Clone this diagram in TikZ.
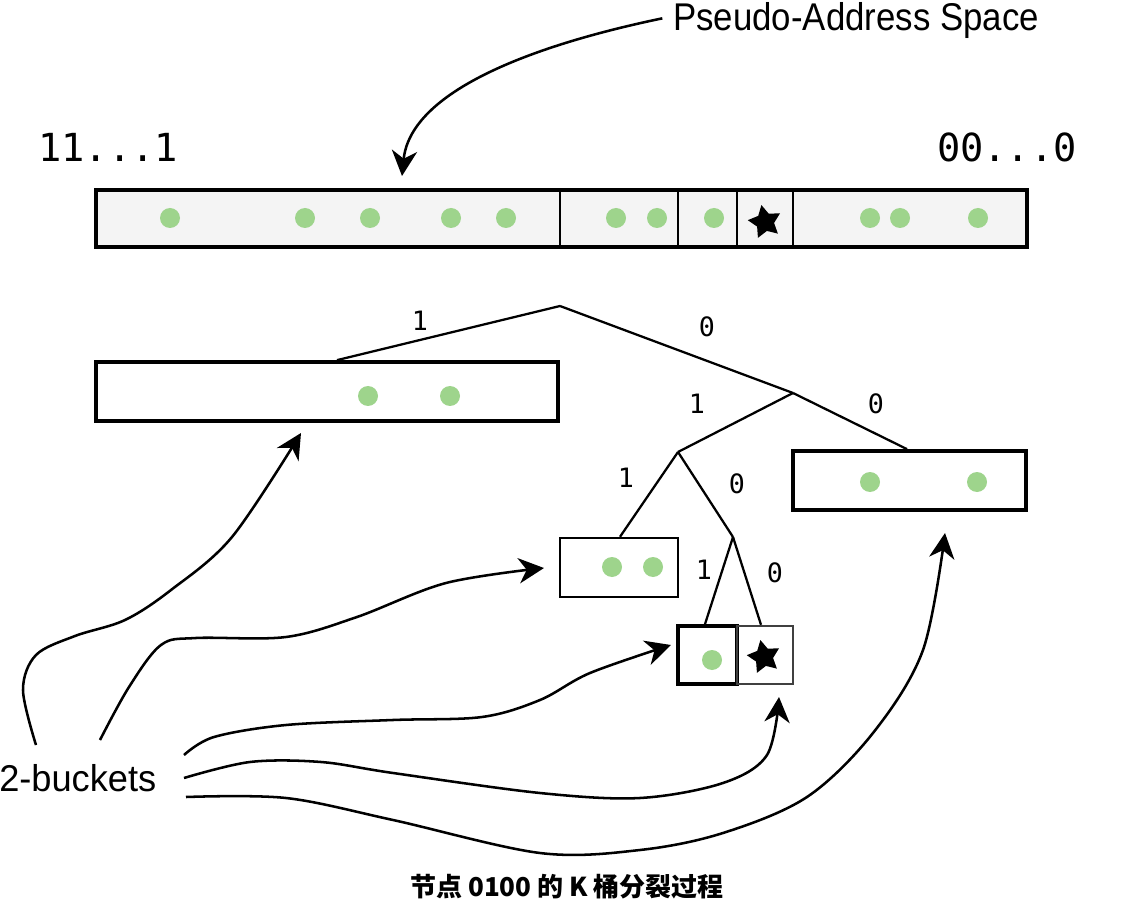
\documentclass[tikz,border=0pt]{standalone}
\usepackage{fontspec}
\setmainfont{Liberation Sans}
\newfontfamily\monof{DejaVu Sans Mono}
\newfontfamily\cjk{Noto Sans CJK SC}
\usetikzlibrary{shapes.geometric,arrows.meta,fit}
\definecolor{dotg}{RGB}{158,212,140}
\definecolor{barbg}{RGB}{244,244,244}
\begin{document}
\begin{tikzpicture}[x=0.75pt,y=-0.75pt,
 dot/.style={circle,fill=dotg,inner sep=0,minimum size=15pt},
 starmark/.style={star,star points=5,star point ratio=1.9,fill=black,inner sep=0,minimum size=26pt,rotate=12},
 bigbox/.style={draw,line width=2.8pt,inner sep=0},
 smallbox/.style={draw,line width=1.8pt,inner sep=0},
 divider/.style={line width=1.4pt},
 edge/.style={line width=1.7pt},
 digit/.style={font=\monof\fontsize{20}{24}\selectfont,inner sep=0},
 curve/.style={line width=1.9pt,-{Stealth[length=19pt,width=19pt,inset=6pt]}},
]
\useasboundingbox (0,0) rectangle (1136,916);

% top bar
\node[bigbox,fill=barbg,fit={(96,190)(1027,247)}] (bar) {};
\foreach \x in {560,678,737,793} \draw[divider] (\x,190) -- (\x,247);
\foreach \x [count=\i] in {170,305,370,451,506,616,657,714,870,900,978}
  \node[dot] (td\i) at (\x,218) {};
\node[starmark] (tstar) at (765,222) {};

\node[font=\monof\fontsize{29}{32}\selectfont,anchor=base west,inner sep=0] (hi) at (38,162) {11...1};
\node[font=\monof\fontsize{29}{32}\selectfont,anchor=base east,inner sep=0] (lo) at (1077,162) {00...0};

\node[font=\fontsize{29}{32}\selectfont,anchor=base west,inner sep=0,xscale=0.9] (pa) at (673,31) {Pseudo-Address Space};
\coordinate (patip) at (402,176);
\draw[curve] ([xshift=-8pt,yshift=2pt]pa.west) .. controls (520,48) and (410,95) .. (patip);

% tree
\coordinate (r) at (560,306);
\coordinate (n0) at (793,393);
\coordinate (n01) at (678,452);
\coordinate (n010) at (733,537);

\node[bigbox,fill=white,fit={(96,362)(558,421)}] (b1) {};
\node[bigbox,fill=white,fit={(793,451)(1026,510)}] (b00) {};
\node[smallbox,fit={(560,538)(678,597)}] (b011) {};
\node[bigbox,fit={(678,626)(737,684)}] (b0101) {};
\node[smallbox,draw=black!75,fit={(737,626)(793,684)}] (b0100) {};

\draw[edge] (r) -- (337,0 |- b1.north);
\draw[edge] (r) -- (n0);
\draw[edge] (n0) -- (n01);
\draw[edge] (n0) -- (907,0 |- b00.north);
\draw[edge] (n01) -- (620,0 |- b011.north);
\draw[edge] (n01) -- (n010);
\draw[edge] (n010) -- (705,0 |- b0101.north);
\draw[edge] (n010) -- (761,0 |- b0100.north);

\node[digit] (l1) at (420,321) {1};
\node[digit] (l2) at (707,327) {0};
\node[digit] (l3) at (697,404) {1};
\node[digit] (l4) at (876,404) {0};
\node[digit] (l5) at (626,478) {1};
\node[digit] (l6) at (737,484) {0};
\node[digit] (l7) at (704,570) {1};
\node[digit] (l8) at (775,573) {0};

\node[dot] (d1) at (368,396) {};
\node[dot] (d2) at (450,396) {};
\node[dot] (d3) at (870,482) {};
\node[dot] (d4) at (977,482) {};
\node[dot] (d5) at (612,567) {};
\node[dot] (d6) at (653,567) {};
\node[dot] (d7) at (712,660) {};
\node[starmark] (bstar) at (764,657) {};

% 2-buckets
\node[font=\fontsize{28}{30}\selectfont,anchor=base west,inner sep=0,xscale=0.97] (bk) at (-1,791) {2-buckets};
\coordinate (s1) at (36,745);
\coordinate (s2) at (100,740);
\coordinate (s3) at (184,755);
\coordinate (s4) at (184,778);
\coordinate (s5) at (186,797);
\coordinate (t1) at (301,433);
\coordinate (t2) at (544,568);
\coordinate (t3) at (671,645);
\coordinate (t4) at (779,697);
\coordinate (t5) at (945,533);

\draw[curve] plot[smooth,tension=0.55] coordinates {(s1) (23,690) (36,655) (75,636) (125,620) (171,590) (232,537) (t1)};
\draw[curve] plot[smooth,tension=0.55] coordinates {(s2) (129,687) (161,645) (196,638) (286,637) (357,617) (446,583) (t2)};
\draw[curve] plot[smooth,tension=0.55] coordinates {(s3) (214,737) (286,725) (393,720) (482,717) (540,700) (590,673) (t3)};
\draw[curve] plot[smooth,tension=0.55] coordinates {(s4) (250,762) (321,762) (393,773) (540,793) (640,798) (723,783) (767,755) (t4)};
\draw[curve] plot[smooth,tension=0.55] coordinates {(s5) (286,798) (393,820) (540,853) (640,850) (723,833) (807,797) (873,733) (923,650) (t5)};

\node[font=\cjk\bfseries\fontsize{19.5}{22}\selectfont,inner sep=0] (cap) at (567,887) {节点 0100 的 K 桶分裂过程};
\end{tikzpicture}
\end{document}
